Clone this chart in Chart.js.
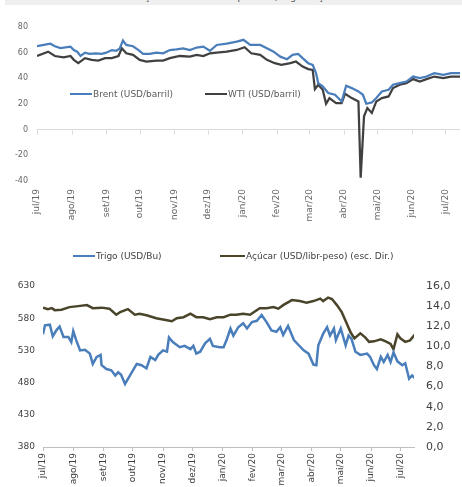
<!DOCTYPE html>
<html lang="pt">
<head>
<meta charset="utf-8">
<script src="https://cdn.jsdelivr.net/npm/chart.js@4.4.1/dist/chart.umd.min.js"></script>
<style>
  html, body { margin: 0; padding: 0; background: #fff; }
  body { width: 462px; height: 487px; position: relative; overflow: hidden;
         font-family: "DejaVu Sans", Verdana, sans-serif; }
  #faixa { position: absolute; left: 5px; top: 0; width: 457px; height: 5px;
           background: #efefef; overflow: hidden; }
  #faixa span { position: absolute; left: 0; right: 0; top: -8px; text-align: center;
                font-size: 9px; color: #404040; white-space: nowrap; }
  .caixa { position: absolute; left: 0; width: 462px; }
  #caixaTopo { top: 0; height: 240px; }
  #caixaBase { top: 240px; height: 247px; }
  .leg { position: absolute; font-size: 9px; line-height: 11px; white-space: nowrap; }
  .leg b { position: absolute; left: 0; top: 4px; height: 0; border-top: 2.5px solid; }
</style>
</head>
<body>
<div id="faixa"><span>Cotações internacionais: petróleo, trigo e açúcar</span></div>
<div class="caixa" id="caixaTopo"><canvas id="graf-petroleo" width="462" height="240"></canvas></div>
<div class="caixa" id="caixaBase"><canvas id="graf-agricolas" width="462" height="247"></canvas></div>

<script>
/* ── eixo de tempo: dias contados desde 01/07/2019 ── */
const inicioMes = [0, 31, 62, 92, 123, 153, 184, 215, 244, 275, 305, 336, 366];
const rotulosMes = ['jul/19', 'ago/19', 'set/19', 'out/19', 'nov/19', 'dez/19',
                    'jan/20', 'fev/20', 'mar/20', 'abr/20', 'mai/20', 'jun/20', 'jul/20'];

/* ── Petróleo (USD/barril) ── */
const brentDias = [0, 6, 12, 16, 21, 30, 33, 36, 39, 43, 47, 53, 58, 62, 67, 71, 74, 77, 80, 86,
                   91, 95, 101, 107, 113, 119, 125, 131, 137, 143, 149, 155, 161, 170, 179, 185,
                   191, 200, 206, 212, 218, 224, 229, 234, 238, 243, 247, 250, 252, 256, 261, 267,
                   273, 277, 282, 288, 292, 295, 300, 304, 309, 315, 319, 325, 331, 337, 343, 349,
                   356, 364, 371, 379];
const brent = [65, 66, 67, 65, 63.5, 64.7, 62, 60.8, 57.4, 60, 59, 59.5, 59, 60, 62, 61.5, 63, 69.4, 66, 65,
               62, 59, 59, 60, 59.5, 62, 62.5, 63.4, 62, 64, 64.7, 61.5, 66, 67, 68.6, 70,
               66, 66, 63.4, 60.8, 56.9, 54.9, 58.3, 59, 55.7, 51.8, 50.5, 44, 36.2, 33.7, 28.5, 27.2,
               22, 34.2, 32.4, 29.8, 27.2, 20.2, 21.2, 24.6, 29.8, 31.1, 35, 36.2, 37.5, 41.4, 40.1, 41.4,
               44, 42.7, 44, 44];

const wtiDias = [0, 10, 16, 24, 30, 33, 37, 43, 49, 55, 61, 67, 73, 76, 80, 86, 92, 98, 107, 113,
                 119, 128, 137, 143, 149, 155, 161, 170, 179, 186, 192, 200, 206, 213, 219, 227,
                 232, 238, 243, 247, 249, 252, 256, 259, 262, 268, 273, 276, 282, 288, 290, 293,
                 296, 300, 304, 309, 315, 319, 325, 331, 337, 343, 349, 356, 364, 371, 379];
const wti = [57.4, 60.8, 57.4, 56.4, 57.4, 54.4, 51.8, 55.7, 54.4, 53.8, 55.7, 55.7, 57.4, 63.4, 59.5, 58.3, 54.4, 53.1, 53.8, 53.8,
             55.7, 57.4, 56.9, 58.3, 57.4, 59.5, 60, 60.8, 62.1, 64.2, 59.5, 58.3, 54.4, 51.8, 50.5, 51.8,
             53.1, 49.2, 47.2, 46.6, 31.6, 35, 31.1, 20.2, 24.6, 20.7, 20.7, 28, 24.6, 22, -37.5, 10.4,
             16.8, 13, 22, 24.6, 25.9, 32.4, 35, 36.2, 39.4, 37.5, 39.4, 41.4, 40.1, 41.4, 41.4];

/* ── Trigo (USD/Bu) ── */
const trigoDias = [0, 2, 7, 10, 14, 17, 21, 26, 29, 31, 34, 38, 43, 48, 51, 55, 59, 60, 65, 70,
                   74, 77, 80, 84, 89, 96, 101, 106, 110, 115, 118, 123, 127, 129, 133, 140, 145, 151,
                   154, 157, 161, 166, 171, 174, 181, 185, 188, 192, 195, 200, 205, 209, 214, 219,
                   224, 229, 234, 239, 243, 246, 251, 257, 262, 267, 272, 277, 280, 282, 287, 291,
                   294, 298, 300, 305, 310, 313, 316, 320, 325, 332, 335, 339, 342, 346, 349, 353,
                   356, 359, 363, 368, 371, 375, 378, 381];
const trigo = [555, 569, 570, 552, 562, 567, 551, 551, 543, 560, 546, 530, 531, 525, 509, 520, 523, 507, 501, 499,
               491, 496, 492, 478, 491, 509, 507, 502, 520, 515, 523, 530, 528, 550, 543, 535, 537, 532,
               537, 525, 528, 541, 548, 537, 535, 535, 546, 564, 553, 566, 572, 564, 574, 576,
               585, 574, 561, 559, 566, 554, 568, 546, 538, 530, 525, 508, 507, 538, 556, 566,
               553, 564, 546, 564, 538, 553, 548, 528, 523, 525, 520, 507, 501, 520, 512, 523,
               512, 527, 513, 507, 510, 486, 491, 487];

/* ── Açúcar (USD/libra-peso, escala direita) ── */
const acucarDias = [0, 5, 9, 12, 19, 27, 36, 45, 51, 60, 68, 75, 79, 87, 94, 99, 106, 116, 127, 132,
                    137, 144, 151, 157, 164, 171, 178, 185, 192, 198, 205, 212, 222, 229, 236, 241,
                    246, 255, 263, 270, 277, 284, 287, 292, 296, 301, 306, 311, 315, 319, 325, 330,
                    334, 339, 346, 351, 356, 359, 363, 366, 371, 376, 381];
const acucar = [13.85, 13.7, 13.8, 13.6, 13.65, 13.9, 14.0, 14.1, 13.8, 13.85, 13.75, 13.15, 13.4, 13.7, 13.15, 13.25, 13.1, 12.8, 12.6, 12.5,
                12.8, 12.9, 13.25, 12.9, 12.9, 12.7, 12.9, 12.9, 13.15, 13.15, 13.25, 13.15, 13.8, 13.8, 13.9, 13.75,
                14.1, 14.6, 14.5, 14.35, 14.5, 14.75, 14.5, 14.85, 14.7, 14.1, 13.4, 12.3, 11.4, 10.8, 11.3, 10.9,
                10.45, 10.5, 10.7, 10.5, 10.25, 9.7, 11.2, 10.8, 10.45, 10.6, 11.2];

const serieBrent  = { nome: 'Brent (USD/barril)', cor: '#4a7ebb' };
const serieWti    = { nome: 'WTI (USD/barril)', cor: '#404040' };
const serieTrigo  = { nome: 'Trigo (USD/Bu)', cor: '#4a7ebb' };
const serieAcucar = { nome: 'Açúcar (USD/libr-peso) (esc. Dir.)', cor: '#4a452a' };

const pares = (dias, vals) => dias.map((d, i) => ({ x: d, y: vals[i] }));
const fonte = (size) => ({ family: "'DejaVu Sans', Verdana, sans-serif", size });

/* legenda em HTML, posicionada como no original */
function legenda(caixa, itens, corTexto) {
  itens.forEach(function(it) {
    const el = document.createElement('div');
    el.className = 'leg';
    el.style.left = it.x + 'px';
    el.style.top = (it.y - 5) + 'px';
    el.style.paddingLeft = (it.w + 1) + 'px';
    el.style.color = corTexto;
    const traco = document.createElement('b');
    traco.style.width = it.w + 'px';
    traco.style.borderColor = it.serie.cor;
    el.appendChild(traco);
    el.appendChild(document.createTextNode(it.serie.nome));
    document.getElementById(caixa).appendChild(el);
  });
}

/* pequenas marcas do eixo sobre a linha do zero (gráfico do petróleo) */
const marcasNoZero = {
  id: 'marcasNoZero',
  beforeDatasetsDraw(chart) {
    const { ctx, scales: { x, y } } = chart;
    const y0 = Math.round(y.getPixelForValue(0)) + 0.5;
    ctx.save();
    ctx.strokeStyle = '#d9d9d9';
    ctx.lineWidth = 1;
    ctx.beginPath();
    inicioMes.forEach(function(d) {
      const px = Math.round(x.getPixelForValue(d)) + 0.5;
      ctx.moveTo(px, y0);
      ctx.lineTo(px, y0 + 4);
    });
    ctx.stroke();
    ctx.restore();
  }
};

Chart.defaults.font.family = "'DejaVu Sans', Verdana, sans-serif";

/* ── Gráfico 1: petróleo ── */
new Chart(document.getElementById('graf-petroleo'), {
  type: 'line',
  data: {
    datasets: [
      { label: serieBrent.nome, data: pares(brentDias, brent), borderColor: serieBrent.cor,
        borderWidth: 2.25, pointRadius: 0, tension: 0 },
      { label: serieWti.nome, data: pares(wtiDias, wti), borderColor: serieWti.cor,
        borderWidth: 2.25, pointRadius: 0, tension: 0 }
    ]
  },
  options: {
    responsive: false, animation: false, devicePixelRatio: 1, events: [],
    layout: { padding: { top: 27, right: 2, left: 0, bottom: 0 } },
    plugins: { legend: { display: false }, tooltip: { enabled: false } },
    scales: {
      x: {
        type: 'linear', min: 0, max: 379,
        grid: { display: false, drawTicks: false }, border: { display: false },
        ticks: { autoSkip: false, minRotation: 90, maxRotation: 90, padding: 8,
                 font: fonte(9), color: '#666666', callback: (v, i) => rotulosMes[i] },
        afterBuildTicks: s => { s.ticks = inicioMes.map(v => ({ value: v })); },
        afterFit: s => { s.height = 59; s.paddingLeft = 0; s.paddingRight = 0; }
      },
      y: {
        min: -40, max: 80,
        grid: { color: c => (c.tick && c.tick.value === 0) ? '#d9d9d9' : 'rgba(0,0,0,0)', drawTicks: false },
        border: { display: false },
        ticks: { stepSize: 20, padding: 9, font: fonte(8), color: '#666666' },
        afterFit: s => { s.width = 37; }
      }
    }
  },
  plugins: [marcasNoZero]
});

legenda('caixaTopo', [
  { serie: serieBrent, x: 70, y: 94, w: 22 },
  { serie: serieWti, x: 205, y: 94, w: 22 }
], '#595959');

/* ── Gráfico 2: trigo e açúcar ── */
new Chart(document.getElementById('graf-agricolas'), {
  type: 'line',
  data: {
    datasets: [
      { label: serieTrigo.nome, data: pares(trigoDias, trigo), borderColor: serieTrigo.cor,
        borderWidth: 2.5, pointRadius: 0, tension: 0, yAxisID: 'y' },
      { label: serieAcucar.nome, data: pares(acucarDias, acucar), borderColor: serieAcucar.cor,
        borderWidth: 2.5, pointRadius: 0, tension: 0, yAxisID: 'y1' }
    ]
  },
  options: {
    responsive: false, animation: false, devicePixelRatio: 1, events: [],
    layout: { padding: { top: 46, right: 0, left: 0, bottom: 0 } },
    plugins: { legend: { display: false }, tooltip: { enabled: false } },
    scales: {
      x: {
        type: 'linear', min: 0, max: 380,
        grid: { drawOnChartArea: false, drawTicks: true, tickLength: 4, color: '#bfbfbf' },
        border: { display: true, color: '#bfbfbf' },
        ticks: { autoSkip: false, minRotation: 90, maxRotation: 90, padding: 2,
                 font: fonte(9), color: '#404040', callback: (v, i) => rotulosMes[i] },
        afterBuildTicks: s => { s.ticks = inicioMes.map(v => ({ value: v })); },
        afterFit: s => { s.height = 40; s.paddingLeft = 0; s.paddingRight = 0; }
      },
      y: {
        position: 'left', min: 380, max: 630,
        grid: { display: false, drawTicks: false }, border: { display: false },
        ticks: { stepSize: 50, padding: 8, font: fonte(9), color: '#404040' },
        afterFit: s => { s.width = 43; }
      },
      y1: {
        position: 'right', min: 0, max: 16,
        grid: { display: false, drawTicks: false }, border: { display: false },
        ticks: { stepSize: 2, padding: 12, font: fonte(11), color: '#404040',
                 callback: v => v.toFixed(1).replace('.', ',') },
        afterFit: s => { s.width = 48; }
      }
    }
  }
});

legenda('caixaBase', [
  { serie: serieTrigo, x: 73, y: 16, w: 22 },
  { serie: serieAcucar, x: 220, y: 16, w: 25 }
], '#404040');
</script>
</body>
</html>
